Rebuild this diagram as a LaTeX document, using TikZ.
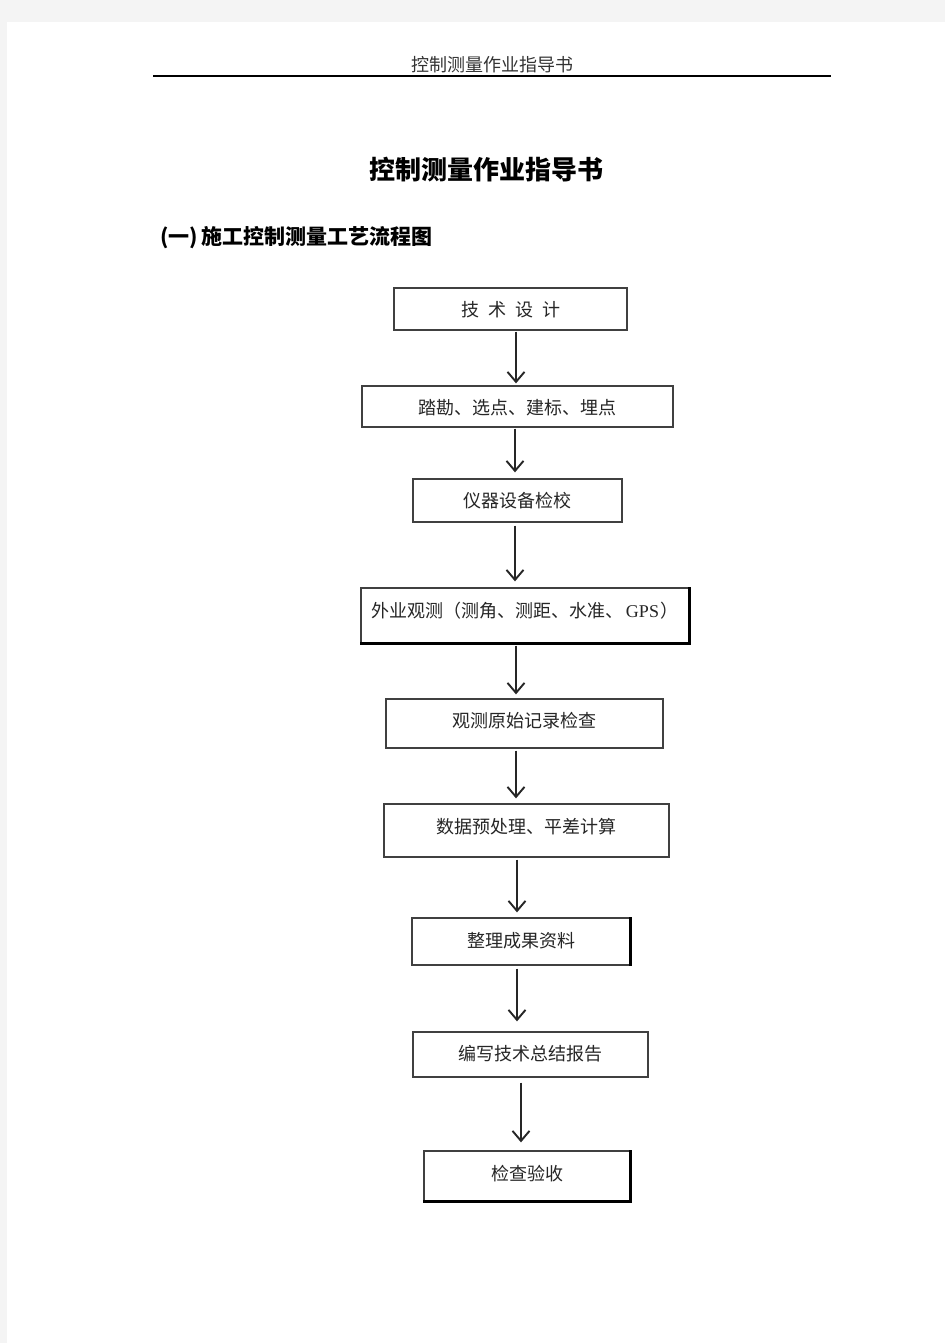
\documentclass[tikz,border=0pt]{standalone}
\usepackage{fontspec}
\setmainfont{Liberation Serif}
\newfontfamily\cjk{Noto Sans CJK SC}
\usetikzlibrary{arrows.meta}
\definecolor{pagebg}{HTML}{F4F4F4}
\definecolor{hdr}{HTML}{333333}
\tikzset{
  box/.style={draw=black!75, line width=1.3pt, rectangle, inner sep=0pt, align=center,
              font=\cjk\fontsize{18pt}{20pt}\selectfont, text=black!85},
  arr/.style={draw=black!85, line width=1.9pt, -{Straight Barb[length=10pt,width=17pt,line width=1.9pt]}},
  heavy/.style={draw=black, line width=2.4pt}
}
\begin{document}
\begin{tikzpicture}[x=1pt,y=-1pt]
\useasboundingbox (0,0) rectangle (945,1343);
\fill[pagebg] (0,0) rectangle (945,1343);
\fill[white] (7,22) rectangle (945,1343);
% header
\node[font=\cjk\fontsize{18pt}{20pt}\selectfont, text=hdr] (hd) at (492,65) {控制测量作业指导书};
\draw[line width=1.5pt] (153,76) -- (831,76);
% title
\node[font=\cjk\bfseries\fontsize{26pt}{28pt}\selectfont] (title) at (486,170) {控制测量作业指导书};
\node[anchor=west, font=\cjk\bfseries\fontsize{21pt}{23pt}\selectfont, inner sep=0pt] (sub) at (160,238) {({\cjk 一})\,施工控制测量工艺流程图};
% boxes
\node[box, minimum width=233pt, minimum height=42pt, text height=28pt, text depth=14pt] (b1) at (510.5,309)
  {技\hspace{9pt}术\hspace{9pt}设\hspace{9pt}计};
\node[box, minimum width=311pt, minimum height=41pt, text height=28pt, text depth=13pt] (b2) at (517.5,406.5)
  {踏勘、选点、建标、埋点};
\node[box, minimum width=209pt, minimum height=43pt, text height=28pt, text depth=15pt] (b3) at (517.5,500.5)
  {仪器设备检校};
\node[box, minimum width=328pt, minimum height=55pt, text height=29pt, text depth=26pt] (b4) at (525,615.5)
  {外业观测（测角、测距、水准、\hspace{2pt}{\rmfamily\fontsize{18pt}{20pt}\selectfont GPS}\hspace{1pt}）};
\node[box, minimum width=277pt, minimum height=49pt, text height=28pt, text depth=21pt] (b5) at (524.5,723.5)
  {观测原始记录检查};
\node[box, minimum width=285pt, minimum height=53pt, text height=29pt, text depth=24pt] (b6) at (526.5,830.5)
  {数据预处理、平差计算};
\node[box, minimum width=218pt, minimum height=47pt, text height=29pt, text depth=18pt] (b7) at (521,941.5)
  {整理成果资料};
\node[box, minimum width=235pt, minimum height=45pt, text height=28pt, text depth=17pt] (b8) at (530.5,1054.5)
  {编写技术总结报告};
\node[box, minimum width=206pt, minimum height=50pt, text height=29pt, text depth=21pt] (b9) at (527,1176)
  {检查验收};
% heavier edges
\draw[heavy] (b4.south west) -- (b4.south east) -- (b4.north east);
\draw[heavy] (b7.south east) -- (b7.north east);
\draw[heavy] (b9.south west) -- (b9.south east) -- (b9.north east);
% arrows
\draw[arr, shorten <=1pt, shorten >=2pt] (b1.south -| 516,0) -- (b2.north -| 516,0);
\draw[arr, shorten <=1pt, shorten >=6pt] (b2.south -| 515,0) -- (b3.north -| 515,0);
\draw[arr, shorten <=3pt, shorten >=6pt] (b3.south -| 515,0) -- (b4.north -| 515,0);
\draw[arr, shorten <=2pt, shorten >=4pt] (b4.south -| 516,0) -- (b5.north -| 516,0);
\draw[arr, shorten <=2pt, shorten >=5pt] (b5.south -| 516,0) -- (b6.north -| 516,0);
\draw[arr, shorten <=2pt, shorten >=5pt] (b6.south -| 517,0) -- (b7.north -| 517,0);
\draw[arr, shorten <=3pt, shorten >=10pt] (b7.south -| 517,0) -- (b8.north -| 517,0);
\draw[arr, shorten <=5pt, shorten >=8pt] (b8.south -| 521,0) -- (b9.north -| 521,0);
\end{tikzpicture}
\end{document}
